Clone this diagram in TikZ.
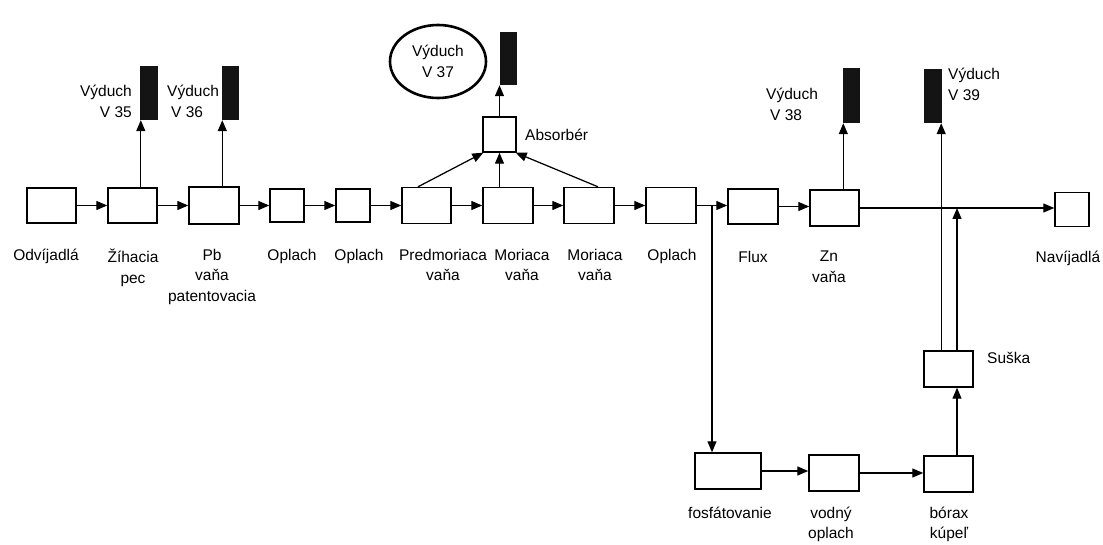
\documentclass[tikz,border=0pt]{standalone}
\usepackage{fontspec}
\setmainfont{Liberation Sans}
\usetikzlibrary{arrows.meta,shapes.geometric,calc}
\tikzset{
  procbox/.style={draw, line width=1.4pt, inner sep=0pt, fill=white},
  chimney/.style={fill=black!92, draw=none, inner sep=0pt},
  lbl/.style={font=\fontsize{15.5}{20.5}\selectfont, inner sep=0pt, align=center, anchor=north},
  lblb/.style={font=\fontsize{15.5}{19.5}\selectfont, inner sep=0pt, align=center, anchor=north},
  arr/.style={line width=1.25pt, -{Triangle[length=11pt,width=9pt]}}
}
\begin{document}
\begin{tikzpicture}[x=1pt,y=-1pt]
\path[use as bounding box, fill=white] (0,0) rectangle (1103,545);

% main row boxes
\node[procbox, minimum width=49pt, minimum height=35pt] (b1) at (51.5,205.5) {};
\node[procbox, minimum width=49pt, minimum height=35pt] (b2) at (132.5,205.5) {};
\node[procbox, minimum width=50pt, minimum height=37pt] (b3) at (214,205.5) {};
\node[procbox, minimum width=34pt, minimum height=33pt] (b4) at (287,205.5) {};
\node[procbox, minimum width=34pt, minimum height=33pt] (b5) at (353,205.5) {};
\node[procbox, minimum width=49pt, minimum height=36pt] (b6) at (426.5,205.5) {};
\node[procbox, minimum width=50pt, minimum height=36pt] (b7) at (508,205.5) {};
\node[procbox, minimum width=50pt, minimum height=36pt] (b8) at (589,205.5) {};
\node[procbox, minimum width=50pt, minimum height=36pt] (b9) at (671,205.5) {};
\node[procbox, minimum width=50pt, minimum height=35pt] (b10) at (753,206.5) {};
\node[procbox, minimum width=49pt, minimum height=36pt] (b11) at (834.5,208) {};
\node[procbox, minimum width=34pt, minimum height=34pt] (b12) at (1072,209.5) {};

% other boxes
\node[procbox, minimum width=33pt, minimum height=35pt] (abs) at (499.5,134.5) {};
\node[procbox, minimum width=49pt, minimum height=36pt] (suska) at (948.5,369) {};
\node[procbox, minimum width=49pt, minimum height=36pt] (borax) at (948.5,474) {};
\node[procbox, minimum width=50pt, minimum height=36pt] (vod) at (834,473) {};
\node[procbox, minimum width=66pt, minimum height=36pt] (fos) at (728,471) {};

% chimneys
\node[chimney, minimum width=18pt, minimum height=54pt] (c35) at (149,93) {};
\node[chimney, minimum width=17pt, minimum height=54pt] (c36) at (230.5,93) {};
\node[chimney, minimum width=17pt, minimum height=53pt] (c37) at (508.5,58.5) {};
\node[chimney, minimum width=17pt, minimum height=55pt] (c38) at (851.5,95.5) {};
\node[chimney, minimum width=18pt, minimum height=54pt] (c39) at (933,96) {};

% ellipse
\node[draw, ellipse, line width=2.6pt, minimum width=96pt, minimum height=73pt,
      font=\fontsize{15.5}{20.5}\selectfont, align=center, inner sep=0pt] (e37) at (438,61.5) {Výduch\\V 37};

% main flow arrows
\draw[arr] (b1.east) -- (b1.east -| b2.west);
\draw[arr] (b2.east) -- (b2.east -| b3.west);
\draw[arr] (b3.east) -- (b3.east -| b4.west);
\draw[arr] (b4.east) -- (b4.east -| b5.west);
\draw[arr] (b5.east) -- (b5.east -| b6.west);
\draw[arr] (b6.east) -- (b6.east -| b7.west);
\draw[arr] (b7.east) -- (b7.east -| b8.west);
\draw[arr] (b8.east) -- (b8.east -| b9.west);
\draw[arr] (b9.east) -- (b9.east -| b10.west);
\draw[arr] (b10.east) -- (b10.east -| b11.west);
\draw[arr] (b11.east) -- (b11.east -| b12.west);

% branch down to phosphating
\coordinate (j) at (712,205.5);
\draw[arr] (j) -- (j |- fos.north);
\draw[arr] (fos.east) -- (fos.east -| vod.west);
\draw[arr] (vod.east) -- (vod.east -| borax.west);
\draw[arr] ([xshift=8.5pt]borax.north) -- ([xshift=8.5pt]suska.south);
\draw[arr] ([xshift=8.5pt]suska.north) -- ([xshift=8.5pt]suska.north |- b11.east);
\draw[arr] ([xshift=-1pt]c39.south east |- suska.north) -- ([xshift=-1pt]c39.south east);

% exhaust arrows
\draw[arr] ([xshift=1pt]c35.south west |- b2.north) -- ([xshift=1pt]c35.south west);
\draw[arr] ([xshift=0.5pt]c36.south west |- b3.north) -- ([xshift=0.5pt]c36.south west);
\draw[arr] ([xshift=0.5pt]c38.south west |- b11.north) -- ([xshift=0.5pt]c38.south west);
\draw[arr] (abs.north) -- (abs.north |- c37.south);

% absorber inputs
\draw[arr] ([xshift=-8.5pt]b6.north) -- ([xshift=1pt]abs.south west);
\draw[arr] (abs.south |- b7.north) -- (abs.south);
\draw[arr] ([xshift=9pt]b8.north) -- ([xshift=-1pt]abs.south east);

% labels
\node[lbl] (l1) at (46,249) {Odvíjadlá};
\node[lbl] (l2) at (133,249) {Žíhacia\\pec};
\node[lbl] (l3) at (212,249) {Pb\\vaňa\\patentovacia};
\node[lbl] (l4) at (292,249) {Oplach};
\node[lbl] (l5) at (359,249) {Oplach};
\node[lbl] (l6) at (443,249) {Predmoriaca\\vaňa};
\node[lbl] (l7) at (522,249) {Moriaca\\vaňa};
\node[lbl] (l8) at (595,249) {Moriaca\\vaňa};
\node[lbl] (l9) at (672,249) {Oplach};
\node[lbl] (l10) at (753,251) {Flux};
\node[lbl] (l11) at (829,251) {Zn\\vaňa};
\node[lbl] (l12) at (1068,251) {Navíjadlá};
\node[lblb] (l13) at (730,507) {fosfátovanie};
\node[lblb] (l14) at (831,507) {vodný\\oplach};
\node[lblb] (l15) at (949,507) {bórax\\kúpeľ};
\node[lbl, anchor=west] (labs) at (525,135) {Absorbér};
\node[lbl, anchor=west] (lsus) at (987,358) {Suška};

\node[lbl, align=right, anchor=north east] (v35) at (132,85) {Výduch\\V 35};
\node[lbl, align=left, anchor=north west] (v36) at (167,85) {Výduch\\\hspace*{4pt}V 36};
\node[lbl, align=left, anchor=north west] (v38) at (766,88) {Výduch\\\hspace*{4pt}V 38};
\node[lbl, align=left, anchor=north west] (v39) at (948,68) {Výduch\\V 39};
\end{tikzpicture}
\end{document}
